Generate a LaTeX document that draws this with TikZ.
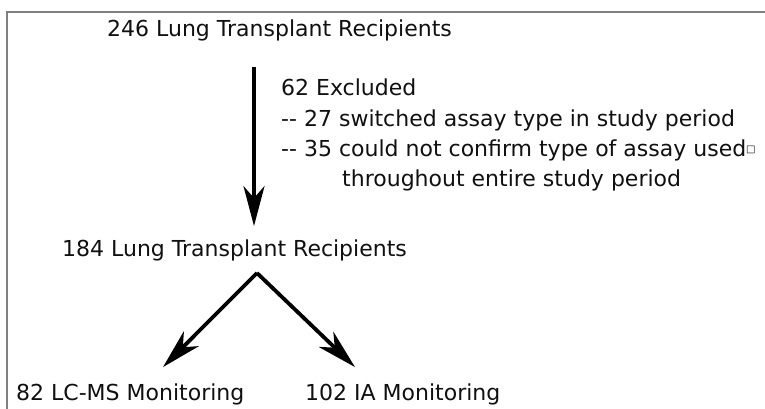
\documentclass[tikz,border=0pt]{standalone}
\usepackage{fontspec}
\setmainfont{DejaVu Sans}
\newfontfamily\boxfont{DejaVu Sans}
\usepackage{tikz}
\usetikzlibrary{arrows.meta, positioning, calc}
\definecolor{cframe}{HTML}{808080}
\definecolor{ctext}{HTML}{101010}

\begin{document}
\begin{tikzpicture}[x=1pt, y=-1pt,
    lbl/.style={anchor=base west, inner sep=0pt, font=\fontsize{22}{24}\selectfont, text=ctext},
    flow/.style={black, line width=3.8pt, -{Stealth[length=40pt, width=21pt, inset=12pt]}},
    frame/.style={cframe, line width=1.4pt}]
  \useasboundingbox (0,0) rectangle (765,409);
  \draw[frame] (765,12) -- (7,12) -- (7,409);
  \node[lbl] (n246) at (107,37) {246 Lung Transplant Recipients};
  \node[lbl] (excl) at (281,96) {62 Excluded};
  \node[lbl] (sw) at (281,127) {-{}- 27 switched assay type in study period};
  \node[lbl] (cc) at (281,157) {-{}- 35 could not confirm type of assay used{\boxfont\fontsize{10}{10}\selectfont\raisebox{4pt}{□}}};
  \node[lbl] (cc2) at (342,186) {throughout entire study period};
  \node[lbl] (n184) at (62,256) {184 Lung Transplant Recipients};
  \node[lbl] (lcms) at (16,400) {82 LC-MS Monitoring};
  \node[lbl] (ia) at (305,400) {102 IA Monitoring};
  \coordinate (down) at (254,67);
  \coordinate (fork) at (257,273);
  \draw[flow] (down) -- ($(down |- n184.north)+(0,-13)$);
  \draw[flow] (fork) -- ($(lcms.north west)+(147,-16)$);
  \draw[flow] (fork) -- ($(ia.north west)+(50,-16)$);
\end{tikzpicture}
\end{document}
